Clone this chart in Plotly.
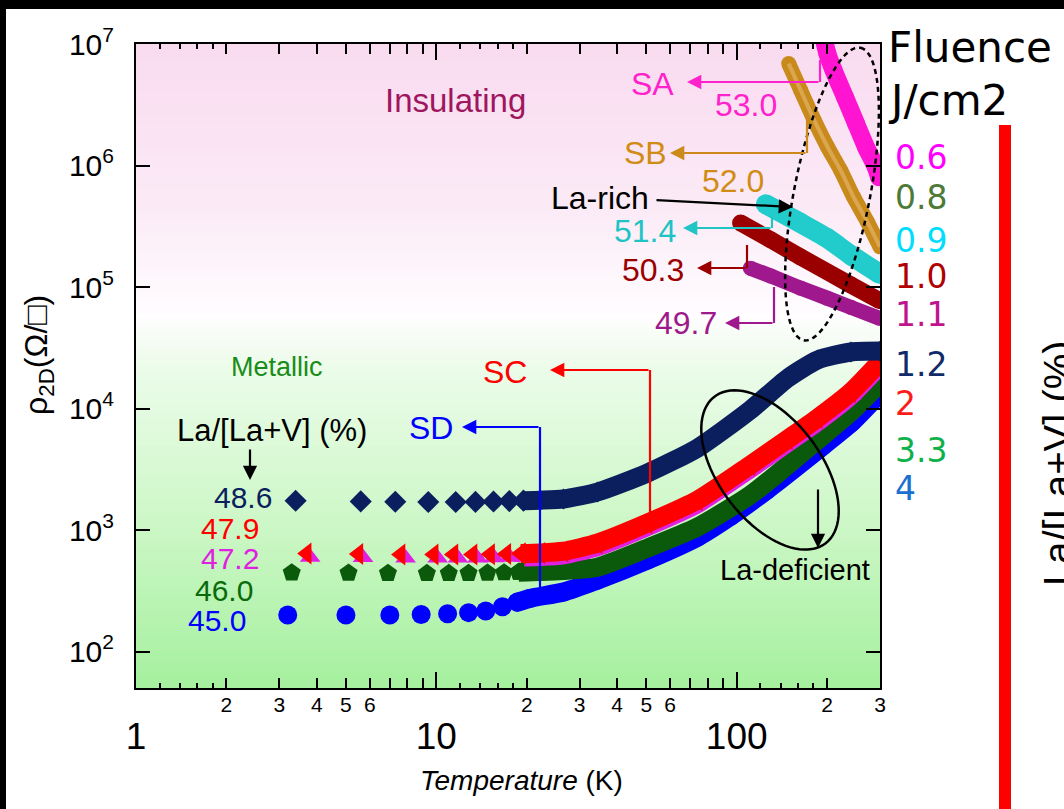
import numpy as np
import plotly.graph_objects as go

# ------------------------------------------------------------------
# DATA
# ------------------------------------------------------------------
# La-deficient (metallic) films: sparse low-T markers + dense high-T band
T_486_pts = [3.4, 5.6, 7.3, 9.4, 11.6, 13.5, 15.5, 17.5, 19.5]
R_486_pts = [1740, 1720, 1710, 1700, 1700, 1705, 1715, 1730, 1745]
T_486_band = [19.5, 22.2, 26.5, 34.4, 50.5, 74.1, 111, 148, 186, 240, 300]
R_486_band = [1745, 1760, 1800, 2056, 2950, 4730, 9730, 17800, 25100, 29200, 29700]

T_479_pts = [3.7, 5.5, 7.6, 9.8, 11.4, 13.2, 15.1, 17.1, 19.1]
R_479_pts = [640, 634, 630, 628, 628, 630, 632, 636, 640]
T_479_band = [19.1, 22.2, 26.5, 34.4, 50.5, 74.1, 111, 148, 186, 240, 300]
R_479_band = [640, 648, 670, 781, 1143, 1766, 3427, 5610, 8350, 13670, 24200]

T_472_pts = [3.8, 5.7, 7.9, 10.1, 11.8, 13.7, 15.6, 17.6, 19.6]
R_472_pts = [598, 593, 590, 588, 588, 590, 592, 596, 600]
T_472_band = [19.6, 22.2, 26.5, 34.4, 50.5, 74.1, 111, 148, 186, 240, 300]
R_472_band = [600, 605, 625, 730, 1070, 1650, 3200, 5250, 7800, 12800, 22800]

T_460_pts = [3.3, 5.1, 6.9, 9.3, 11.0, 12.8, 14.8, 16.8, 18.8]
R_460_pts = [445, 443, 441, 440, 440, 441, 443, 446, 450]
T_460_band = [18.8, 22.2, 26.5, 34.4, 50.5, 74.1, 111, 144, 186, 240, 300]
R_460_band = [450, 455, 465, 495, 711, 1059, 1941, 3240, 5510, 9360, 16200]

T_450_pts = [3.2, 5.0, 7.0, 8.9, 10.9, 12.8, 14.6, 16.6, 18.6]
R_450_pts = [200, 200, 200, 202, 205, 209, 216, 234, 255]
T_450_band = [18.6, 20.6, 26.5, 34.4, 50.5, 74.1, 95.5, 126, 186, 240, 300]
R_450_band = [255, 275, 309, 387, 566, 875, 1300, 2133, 4550, 7590, 13400]

# La-rich (insulating) films
T_530 = [195, 200, 210, 230, 250, 270, 290, 298]
R_530 = [1.1e7, 8.5e6, 6.1e6, 3.6e6, 2.2e6, 1.4e6, 9.8e5, 8.0e5]
T_520 = [149, 163, 181, 201, 222, 245, 273, 300]
R_520 = [6.9e6, 4.2e6, 2.37e6, 1.41e6, 9.1e5, 5.5e5, 3.4e5, 2.14e5]
T_514 = [125, 163, 200, 240, 300]
R_514 = [4.8e5, 3.37e5, 2.53e5, 1.83e5, 1.28e5]
T_503 = [103, 130, 163, 240, 300]
R_503 = [3.37e5, 2.44e5, 1.77e5, 1.04e5, 7.7e4]
T_497 = [111, 130, 163, 200, 240, 300]
R_497 = [1.43e5, 1.23e5, 9.8e4, 8.1e4, 6.8e4, 5.5e4]

# composition labels, fluence labels, ticks
comp_labels = ["48.6", "47.9", "47.2", "46.0", "45.0"]
fluence_labels = ["0.6", "0.8", "0.9", "1.0", "1.1", "1.2", "2", "3.3", "4"]
x_lab_vals = [2, 3, 4, 5, 6, 7, 8, 9, 20, 30, 40, 50, 60, 70, 80, 90, 200, 300]
x_lab_text = ["2", "3", "4", "5", "6", "", "", "", "2", "3", "4", "5", "6", "", "", "", "2", "3"]
x_minor_vals = [1.2, 1.4, 1.6, 1.8, 12, 14, 16, 18, 120, 140, 160, 180]
x_major_vals = [1, 10, 100]
x_major_text = ["1", "10", "100"]
y_vals = [1e2, 1e3, 1e4, 1e5, 1e6, 1e7]
y_text = ["10<sup>2</sup>", "10<sup>3</sup>", "10<sup>4</sup>", "10<sup>5</sup>",
          "10<sup>6</sup>", "10<sup>7</sup>"]

# ------------------------------------------------------------------
# LAYOUT HELPERS (pixel -> paper)
# ------------------------------------------------------------------
FIG_W, FIG_H = 1064, 809
L, R, T, B = 136, 880, 44, 688
W, H = R - L, B - T


def fx(x):
    return (x - L) / W


def fy(y):
    return (B - y) / H


ARIAL = "Liberation Sans, Arial, sans-serif"
COMIC = "DejaVu Sans, sans-serif"

fig = go.Figure()

# ---------------- insulating bands ----------------
ins = [
    (T_497, R_497, "#a0188e", 15),
    (T_503, R_503, "#9a0000", 17),
    (T_514, R_514, "#22cccc", 20),
    (T_520, R_520, "#c98a1c", 15),
    (T_530, R_530, "#ff14d2", 18),
]
for t, r, c, w in ins:
    fig.add_trace(go.Scatter(x=t, y=r, mode="lines+markers",
                             line=dict(color=c, width=w, shape="spline", smoothing=0.6),
                             marker=dict(color=c, size=w, symbol="circle"),
                             showlegend=False, hoverinfo="skip"))
fig.add_trace(go.Scatter(x=T_520, y=R_520, mode="lines",
                         line=dict(color="#dba650", width=4, shape="spline", smoothing=0.6),
                         showlegend=False, hoverinfo="skip"))

# ---------------- metallic series ----------------
met = [
    (T_450_pts, R_450_pts, T_450_band, R_450_band, "#0000ff", "circle", 19, 19),
    (T_460_pts, R_460_pts, T_460_band, R_460_band, "#0b5a0b", "pentagon", 19, 19),
    (T_472_pts, R_472_pts, T_472_band, R_472_band, "#e020e0", "triangle-up", 18, 18),
    (T_479_pts, R_479_pts, T_479_band, R_479_band, "#ff0000", "triangle-left", 19, 19),
    (T_486_pts, R_486_pts, T_486_band, R_486_band, "#0b1f5e", "diamond", 17, 16),
]
for tp, rp, tb, rb, c, sym, s, bs in met:
    fig.add_trace(go.Scatter(x=tb, y=rb, mode="lines+markers",
                             line=dict(color=c, width=19, shape="spline", smoothing=0.6),
                             marker=dict(color=c, size=bs, symbol=sym, line=dict(width=0)),
                             showlegend=False, hoverinfo="skip"))
    fig.add_trace(go.Scatter(x=tp, y=rp, mode="markers",
                             marker=dict(color=c, size=s, symbol=sym, line=dict(width=0)),
                             showlegend=False, hoverinfo="skip"))

# invisible trace so that the decade axis (x2) is drawn
fig.add_trace(go.Scatter(x=T_486_band, y=R_486_band, xaxis="x2", yaxis="y", mode="markers",
                         marker=dict(opacity=0), showlegend=False, hoverinfo="skip"))

# ------------------------------------------------------------------
# SHAPES
# ------------------------------------------------------------------
shapes = []
stops = [(0.0, (249, 219, 240)), (0.25, (251, 234, 246)), (0.42, (255, 253, 255)),
         (0.5, (236, 252, 234)), (0.75, (204, 247, 198)), (1.0, (165, 240, 158))]


def bg_color(f):
    for (f0, c0), (f1, c1) in zip(stops[:-1], stops[1:]):
        if f0 <= f <= f1:
            u = (f - f0) / (f1 - f0)
            return "rgb(%d,%d,%d)" % tuple(round(a + (b - a) * u) for a, b in zip(c0, c1))
    return "rgb(165,240,158)"


NS = 120
for i in range(NS):
    f0, f1 = i / NS, (i + 1) / NS
    shapes.append(dict(type="rect", xref="paper", yref="paper", layer="below",
                       x0=0, x1=1, y0=max(0, 1 - f1 - 0.002), y1=1 - f0,
                       fillcolor=bg_color((f0 + f1) / 2), line=dict(width=0)))

shapes.append(dict(type="rect", xref="paper", yref="paper", x0=fx(0), x1=fx(6), y0=fy(FIG_H), y1=fy(0),
                   fillcolor="black", line=dict(width=0)))
shapes.append(dict(type="rect", xref="paper", yref="paper", x0=fx(0), x1=fx(FIG_W), y0=fy(9), y1=fy(0),
                   fillcolor="black", line=dict(width=0)))
shapes.append(dict(type="rect", xref="paper", yref="paper", x0=fx(999), x1=fx(1011), y0=fy(FIG_H), y1=fy(125),
                   fillcolor="#ff0000", line=dict(width=0)))


def seg(p0, p1, color, width=2.2, dash="solid"):
    shapes.append(dict(type="line", xref="paper", yref="paper",
                       x0=fx(p0[0]), y0=fy(p0[1]), x1=fx(p1[0]), y1=fy(p1[1]),
                       line=dict(color=color, width=width, dash=dash)))


def ellipse(cx, cy, a, b, ang_deg, color, dash):
    th = np.radians(ang_deg)
    t = np.linspace(0, 2 * np.pi, 90)
    xs = cx + a * np.cos(t) * np.cos(th) - b * np.sin(t) * np.sin(th)
    ys = cy + a * np.cos(t) * np.sin(th) + b * np.sin(t) * np.cos(th)
    path = "M " + " L ".join("%.5f,%.5f" % (fx(x), fy(y)) for x, y in zip(xs, ys)) + " Z"
    shapes.append(dict(type="path", xref="paper", yref="paper", path=path,
                       line=dict(color=color, width=2.5, dash=dash)))


ellipse(832, 194, 149, 38, -79, "black", "5px,4px")
ellipse(770, 470, 92, 51, 53, "black", "solid")

seg((820, 60), (820, 82), "#ff22cc")
seg((807, 118), (807, 153), "#cc8a1a")
seg((772, 217), (772, 228), "#22c4c4")
seg((747, 245), (747, 268), "#9a0000")
seg((774, 287), (774, 323), "#a0188e")
seg((650, 520), (650, 370), "#ff0000")
seg((540, 596), (540, 427), "#0000ff")

# ------------------------------------------------------------------
# ANNOTATIONS
# ------------------------------------------------------------------
ann = []


def arrow(tail, tip, color, width=2.2, size=1.3):
    ann.append(dict(xref="paper", yref="paper", x=fx(tip[0]), y=fy(tip[1]),
                    ax=tail[0] - tip[0], ay=tail[1] - tip[1],
                    axref="pixel", ayref="pixel", showarrow=True, arrowhead=2,
                    arrowsize=size, arrowwidth=width, arrowcolor=color, text="", standoff=0))


def label(text, cx, cy, color, size=32, family=ARIAL, anchor="center", angle=0):
    ann.append(dict(xref="paper", yref="paper", x=fx(cx), y=fy(cy), text=text,
                    showarrow=False, xanchor=anchor, yanchor="middle", textangle=angle,
                    font=dict(family=family, size=size, color=color)))


arrow((820, 82), (687, 82), "#ff22cc")
arrow((807, 153), (670, 153), "#cc8a1a")
arrow((655, 200), (793, 207), "black")
arrow((772, 228), (683, 228), "#22c4c4")
arrow((747, 268), (697, 268), "#9a0000")
arrow((774, 323), (725, 323), "#a0188e")
arrow((650, 370), (550, 370), "#ff0000")
arrow((540, 427), (462, 427), "#0000ff")
arrow((250, 448), (250, 480), "black")
arrow((818, 488), (818, 548), "black")

label("Insulating", 455, 100, "#a0165e", 33)
label("Metallic", 277, 367, "#1a8c1a", 27)
label("La/[La+V] (%)", 272, 431, "black", 31)
label("SA", 652, 84, "#ff22cc", 32)
label("53.0", 746, 105, "#ff22cc", 32)
label("SB", 645, 153, "#d08c14", 32)
label("52.0", 733, 181, "#d08c14", 32)
label("La-rich", 600, 198, "black", 32)
label("51.4", 645, 231, "#1ec4c4", 32)
label("50.3", 653, 270, "#9a0000", 32)
label("49.7", 686, 323, "#9e1a8a", 32)
label("SC", 505, 372, "#ff0000", 32)
label("SD", 431, 428, "#0000ff", 32)
label("La-deficient", 795, 570, "black", 29)

comp_colors = ["#0b1f5e", "#ff0000", "#e020e0", "#0b6b0b", "#0000ff"]
comp_pos = [(243, 497), (230, 528), (230, 558), (224, 590), (217, 620)]
for txt, c, (cx, cy) in zip(comp_labels, comp_colors, comp_pos):
    label(txt, cx, cy, c, 30)

label("Fluence", 886, 47, "black", 42, COMIC, "left")
label("J/cm2", 886, 100, "black", 42, COMIC, "left")
fl_colors = ["#ff00ff", "#4d7a36", "#00ddff", "#b00000", "#c0148c",
             "#102a6a", "#ff1a1a", "#10b04a", "#1a6fd0"]
fl_y = [157, 198, 240, 276, 314, 364, 404, 450, 488]
for txt, c, yy in zip(fluence_labels, fl_colors, fl_y):
    label(txt, 893, yy, c, 33, COMIC, "left")

label("ρ<sub>2D</sub>(Ω/□)", 38, 355, "black", 32, ARIAL, "center", -90)
label("<i>Temperature</i> (K)", 521, 780, "black", 28, ARIAL)
label("La/[La+V] (%)", 1058, 463, "black", 40, ARIAL, "center", -90)

# ------------------------------------------------------------------
fig.update_layout(
    width=FIG_W, height=FIG_H, autosize=False,
    margin=dict(l=L, r=FIG_W - R, t=T, b=FIG_H - B, pad=0),
    paper_bgcolor="white", plot_bgcolor="rgba(0,0,0,0)",
    showlegend=False,
    shapes=shapes, annotations=ann,
    xaxis=dict(type="log", range=[0, np.log10(300)], showline=True, linecolor="black",
               linewidth=2, mirror="ticks", ticks="inside", ticklen=10, tickwidth=2,
               tickcolor="black", tickmode="array", tickvals=x_lab_vals, ticktext=x_lab_text,
               tickfont=dict(family=ARIAL, size=21, color="black"), ticklabelstandoff=-3,
               showgrid=False, zeroline=False,
               minor=dict(tickmode="array", tickvals=x_minor_vals, ticks="inside", ticklen=5,
                          tickwidth=1.5, tickcolor="black", showgrid=False)),
    xaxis2=dict(type="log", range=[0, np.log10(300)], overlaying="x", anchor="y", side="bottom",
                showline=False, mirror="ticks", ticks="inside", ticklen=16, tickwidth=2,
                tickcolor="black", tickmode="array", tickvals=x_major_vals, ticktext=x_major_text,
                tickfont=dict(family=ARIAL, size=37, color="black"), ticklabelstandoff=23,
                showgrid=False, zeroline=False),
    yaxis=dict(type="log", range=[1.7, 7], showline=True, linecolor="black", linewidth=2,
               mirror="ticks", ticks="inside", ticklen=14, tickwidth=2, tickcolor="black",
               tickmode="array", tickvals=y_vals, ticktext=y_text,
               tickfont=dict(family=ARIAL, size=30, color="black"), ticklabelstandoff=14,
               showgrid=False, zeroline=False),
)

fig.write_html("out.html")
